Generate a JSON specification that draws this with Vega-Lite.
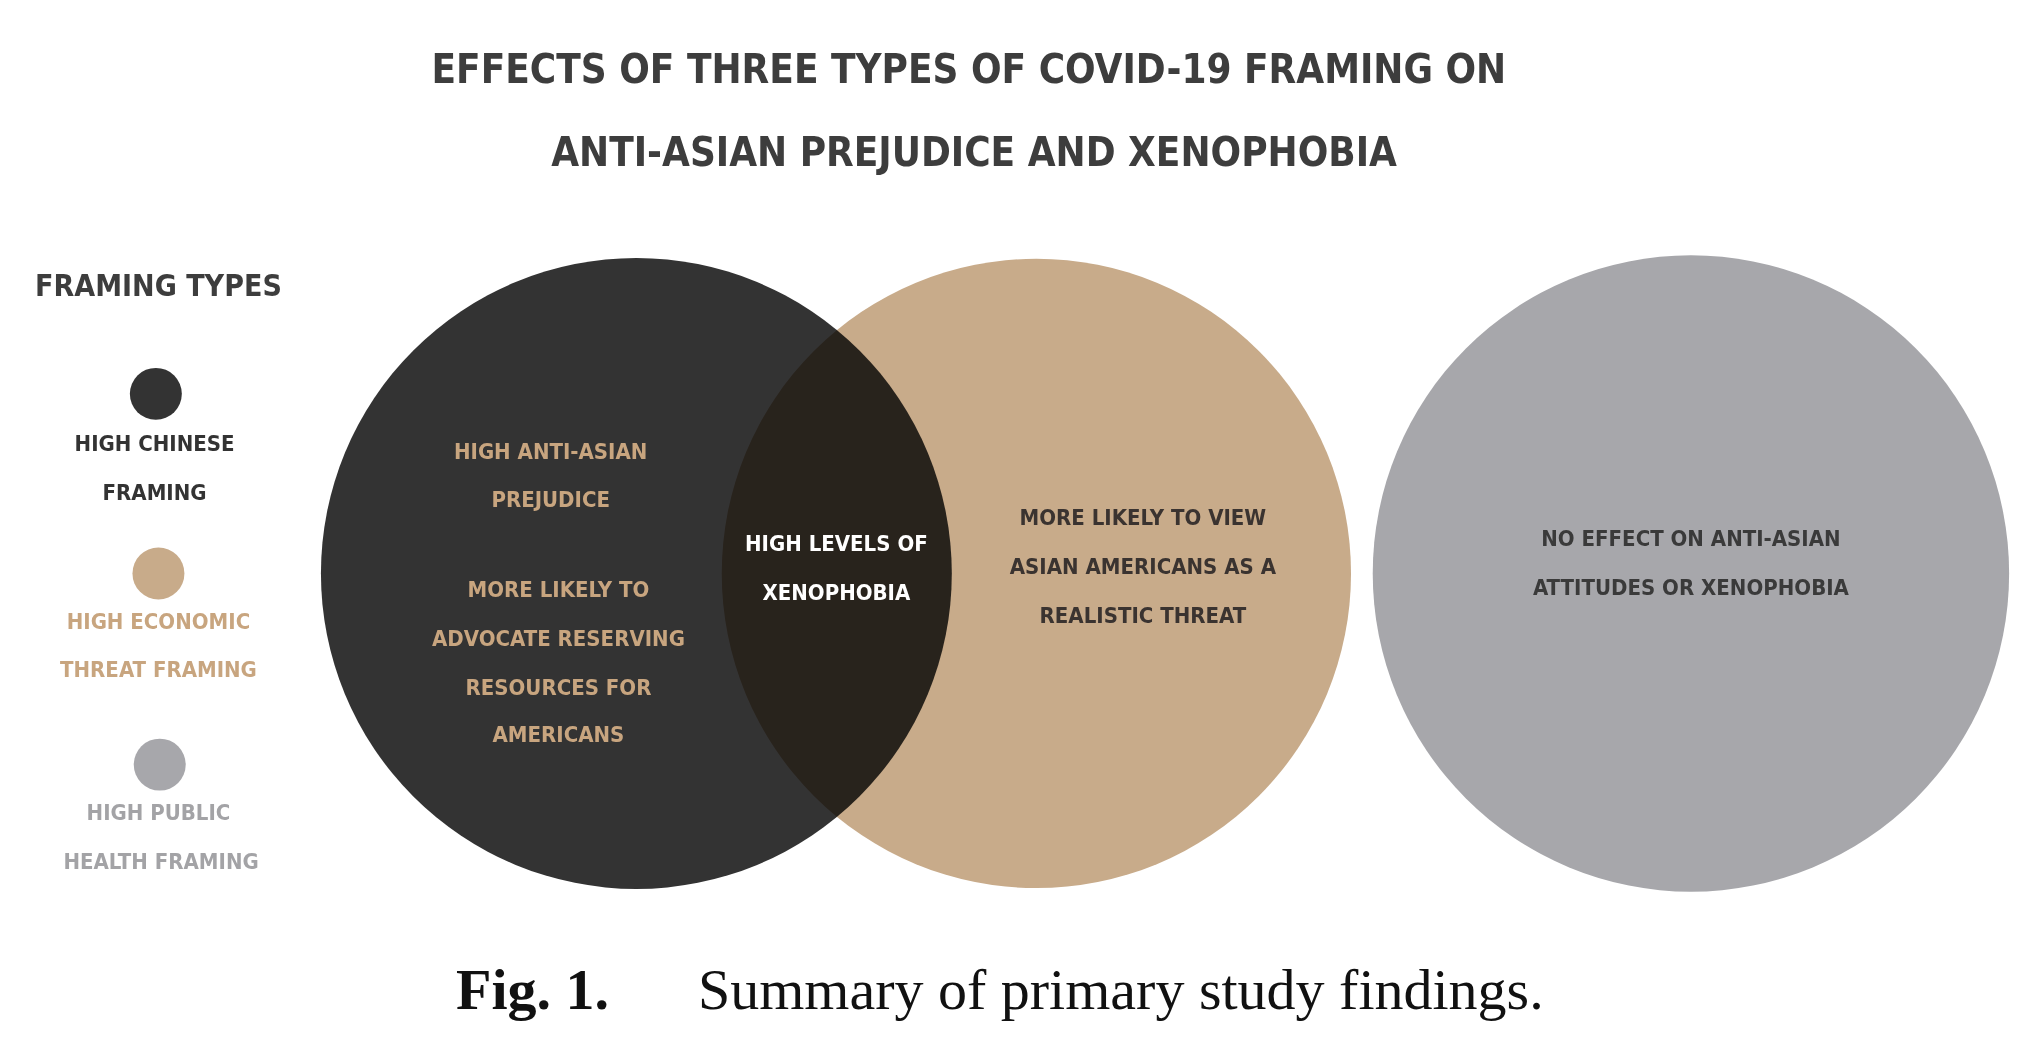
{
  "$schema": "https://vega.github.io/schema/vega-lite/v6.json",
  "width": 2026,
  "height": 1052,
  "autosize": {"type": "fit", "contains": "padding"},
  "padding": 0,
  "background": "white",
  "config": {"view": {"stroke": null}},
  "datasets": {
    "circles": [
      {"name": "chinese", "x": 490, "y": 447, "size": 398000, "color": "#333333"},
      {"name": "economic", "x": 798, "y": 447, "size": 396000, "color": "#c8ab8a"},
      {"name": "health", "x": 1302, "y": 447, "size": 405000, "color": "#a7a7ab"}
    ],
    "dots": [
      {"x": 120, "y": 307, "color": "#333333"},
      {"x": 122, "y": 447, "color": "#c8ab8a"},
      {"x": 123, "y": 596, "color": "#a7a7ab"}
    ],
    "labels": [
      {"text": "HIGH CHINESE", "x": 119, "y": 346, "color": "#333333"},
      {"text": "FRAMING", "x": 119, "y": 384, "color": "#333333"},
      {"text": "HIGH ECONOMIC", "x": 122, "y": 485, "color": "#c8a57f"},
      {"text": "THREAT FRAMING", "x": 122, "y": 522, "color": "#c8a57f"},
      {"text": "HIGH PUBLIC", "x": 122, "y": 634, "color": "#a3a3a6"},
      {"text": "HEALTH FRAMING", "x": 124, "y": 672, "color": "#a3a3a6"},
      {"text": "HIGH ANTI-ASIAN", "x": 424, "y": 352, "color": "#c8a57f"},
      {"text": "PREJUDICE", "x": 424, "y": 390, "color": "#c8a57f"},
      {"text": "MORE LIKELY TO", "x": 430, "y": 460, "color": "#c8a57f"},
      {"text": "ADVOCATE RESERVING", "x": 430, "y": 498, "color": "#c8a57f"},
      {"text": "RESOURCES FOR", "x": 430, "y": 536, "color": "#c8a57f"},
      {"text": "AMERICANS", "x": 430, "y": 573, "color": "#c8a57f"},
      {"text": "HIGH LEVELS OF", "x": 644, "y": 424, "color": "#ffffff"},
      {"text": "XENOPHOBIA", "x": 644, "y": 462, "color": "#ffffff"},
      {"text": "MORE LIKELY TO VIEW", "x": 880, "y": 404, "color": "#3a3330"},
      {"text": "ASIAN AMERICANS AS A", "x": 880, "y": 442, "color": "#3a3330"},
      {"text": "REALISTIC THREAT", "x": 880, "y": 480, "color": "#3a3330"},
      {"text": "NO EFFECT ON ANTI-ASIAN", "x": 1302, "y": 420, "color": "#3a3a3a"},
      {"text": "ATTITUDES OR XENOPHOBIA", "x": 1302, "y": 458, "color": "#3a3a3a"}
    ],
    "titles": [
      {"text": "EFFECTS OF THREE TYPES OF COVID-19 FRAMING ON", "x": 746, "y": 55, "size": 40},
      {"text": "ANTI-ASIAN PREJUDICE AND XENOPHOBIA", "x": 750, "y": 120, "size": 40},
      {"text": "FRAMING TYPES", "x": 122, "y": 224, "size": 30}
    ],
    "figlabel": [
      {"text": "Fig. 1.", "x": 410, "y": 773}
    ],
    "caption": [
      {"text": "Summary of primary study findings.", "x": 863, "y": 773}
    ]
  },
  "encoding": {
    "x": {"field": "x", "type": "quantitative", "scale": {"domain": [0, 1560]}, "axis": null},
    "y": {"field": "y", "type": "quantitative", "scale": {"domain": [820, 0]}, "axis": null}
  },
  "layer": [
    {
      "data": {"name": "circles"},
      "mark": {"type": "circle", "opacity": 1, "blend": "multiply"},
      "encoding": {
        "size": {"field": "size", "type": "quantitative", "scale": null},
        "color": {"field": "color", "type": "nominal", "scale": null}
      }
    },
    {
      "data": {"name": "dots"},
      "mark": {"type": "circle", "opacity": 1, "size": 2700},
      "encoding": {"color": {"field": "color", "type": "nominal", "scale": null}}
    },
    {
      "data": {"name": "labels"},
      "mark": {"type": "text", "font": "DejaVu Sans Condensed", "fontWeight": "bold", "fontSize": 22, "baseline": "middle", "align": "center"},
      "encoding": {
        "text": {"field": "text"},
        "color": {"field": "color", "type": "nominal", "scale": null}
      }
    },
    {
      "data": {"name": "titles"},
      "mark": {"type": "text", "font": "DejaVu Sans Condensed", "fontWeight": "bold", "baseline": "middle", "align": "center", "color": "#3d3d3d"},
      "encoding": {
        "text": {"field": "text"},
        "size": {"field": "size", "type": "quantitative", "scale": null}
      }
    },
    {
      "data": {"name": "figlabel"},
      "mark": {"type": "text", "font": "Liberation Serif", "fontWeight": "bold", "fontSize": 58, "baseline": "middle", "align": "center", "color": "#111111"},
      "encoding": {"text": {"field": "text"}}
    },
    {
      "data": {"name": "caption"},
      "mark": {"type": "text", "font": "Liberation Serif", "fontSize": 58, "baseline": "middle", "align": "center", "color": "#111111"},
      "encoding": {"text": {"field": "text"}}
    }
  ]
}
